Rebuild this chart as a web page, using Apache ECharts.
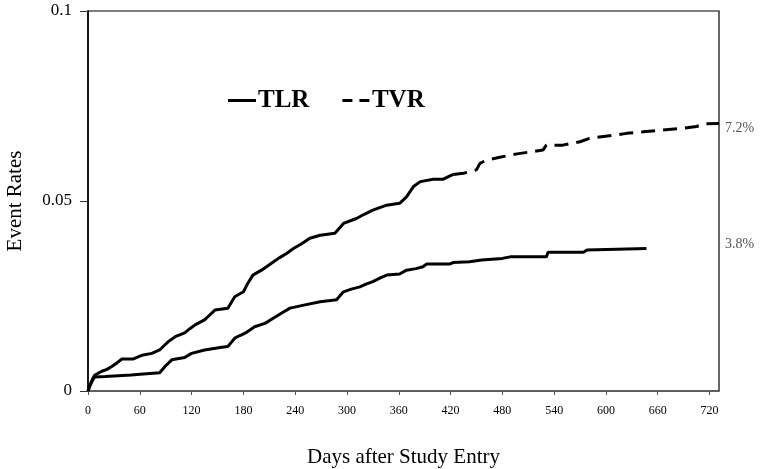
<!DOCTYPE html>
<html>
<head>
<meta charset="utf-8">
<script src="https://cdn.jsdelivr.net/npm/echarts@6/dist/echarts.min.js"></script>
<style>html,body{margin:0;padding:0;background:#fff}#c{width:762px;height:469px}</style>
</head>
<body>
<div id="c"></div>
<script>
// ---- data ----
const xTicks = [0, 60, 120, 180, 240, 300, 360, 420, 480, 540, 600, 660, 720];
const yTicks = [0, 0.05, 0.1];
const seriesNames = ['TLR', 'TVR'];
const endLabels = ['3.8%', '7.2%'];

const tlrDays  = [0, 2, 4, 6, 8, 20, 35, 50, 64, 83, 89, 93, 97, 112, 120, 135, 155, 162, 166, 170, 176, 182, 188, 193, 205, 215, 225, 234, 250, 269, 288, 292, 296, 305, 315, 322, 330, 338, 346, 361, 369, 380, 388, 392, 419, 423, 442, 456, 480, 489, 531, 533, 574, 578, 647];
const tlrRates = [0, 0.0012, 0.0022, 0.0031, 0.0037, 0.0038, 0.0040, 0.0042, 0.0045, 0.0048, 0.0064, 0.0073, 0.0082, 0.0088, 0.0099, 0.0108, 0.0115, 0.0117, 0.0128, 0.0139, 0.0146, 0.0152, 0.0161, 0.0169, 0.0178, 0.0192, 0.0206, 0.0218, 0.0226, 0.0235, 0.0240, 0.0251, 0.0261, 0.0268, 0.0274, 0.0281, 0.0288, 0.0297, 0.0305, 0.0308, 0.0318, 0.0322, 0.0327, 0.0334, 0.0334, 0.0338, 0.0340, 0.0345, 0.0349, 0.0353, 0.0353, 0.0365, 0.0365, 0.0371, 0.0375];

const tvrDays  = [0, 2, 4, 6, 8, 10, 16, 22, 28, 33, 39, 52, 58, 64, 74, 83, 88, 93, 101, 112, 118, 124, 135, 141, 147, 162, 166, 170, 180, 185, 191, 201, 215, 222, 230, 238, 248, 257, 269, 286, 296, 311, 320, 330, 346, 361, 369, 377, 385, 400, 411, 423, 435, 450, 454, 462, 477, 497, 527, 531, 550, 570, 581, 612, 624, 643, 666, 689, 705, 714, 731];
const tvrRates = [0, 0.0013, 0.0025, 0.0035, 0.0042, 0.0047, 0.0052, 0.0057, 0.0065, 0.0073, 0.0084, 0.0084, 0.0090, 0.0095, 0.0099, 0.0108, 0.0119, 0.0130, 0.0143, 0.0153, 0.0164, 0.0174, 0.0187, 0.0200, 0.0213, 0.0218, 0.0233, 0.0248, 0.0261, 0.0283, 0.0305, 0.0318, 0.0340, 0.0351, 0.0362, 0.0375, 0.0388, 0.0402, 0.0410, 0.0415, 0.0441, 0.0454, 0.0465, 0.0476, 0.0489, 0.0494, 0.0511, 0.0538, 0.0551, 0.0557, 0.0557, 0.0570, 0.0573, 0.0582, 0.0599, 0.0608, 0.0615, 0.0624, 0.0634, 0.0647, 0.0647, 0.0656, 0.0665, 0.0674, 0.0678, 0.0682, 0.0687, 0.0691, 0.0696, 0.0703, 0.0704];

const tvrSolidUntilDay = 423; // early part of TVR looks solid in the reference

// ---- build ----
const pairs = (xs, ys) => xs.map((x, i) => [x, ys[i]]);
const tlr = pairs(tlrDays, tlrRates);
const tvrAll = pairs(tvrDays, tvrRates);
const tvrEarly = tvrAll.filter(p => p[0] <= tvrSolidUntilDay);
const tvrLate = tvrAll.filter(p => p[0] >= tvrSolidUntilDay);

const serif = 'Liberation Serif, Times New Roman, serif';
const chart = echarts.init(document.getElementById('c'), null, {renderer: 'canvas'});
const lineW = 3;

chart.setOption({
  animation: false,
  backgroundColor: '#fff',
  grid: {left: 88, right: 43, top: 11, bottom: 78, show: true, borderColor: '#000', borderWidth: 1.2,
         containLabel: false, outerBoundsMode: 'none'},
  legend: {
    data: [
      {name: seriesNames[0], icon: 'path://M0,0H28V3H0Z'},
      {name: seriesNames[1], icon: 'path://M0,0H10V3H0Z M17,0H27V3H17Z'}
    ],
    left: 223, top: 83,
    itemWidth: 30, itemHeight: 3, itemGap: 33,
    itemStyle: {color: '#000'},
    textStyle: {fontFamily: serif, fontWeight: 'bold', fontSize: 25, color: '#000', padding: [0, 0, 0, -4]}
  },
  xAxis: {
    type: 'value', min: 0, max: 731, interval: 60,
    name: 'Days after Study Entry', nameLocation: 'middle', nameGap: 56,
    nameTextStyle: {fontFamily: serif, fontSize: 21, color: '#000'},
    axisLine: {show: true, lineStyle: {color: '#555', width: 1.5}},
    axisTick: {show: true, length: 4, lineStyle: {color: '#555'}},
    axisLabel: {fontFamily: serif, fontSize: 12, color: '#000', margin: 14, showMaxLabel: false,
      formatter: v => xTicks.includes(v) ? String(v) : ''},
    splitLine: {show: false}
  },
  yAxis: {
    type: 'value', min: 0, max: 0.1, interval: 0.05,
    name: 'Event Rates', nameLocation: 'middle', nameGap: 62, nameRotate: 90,
    nameTextStyle: {fontFamily: serif, fontSize: 21, color: '#000'},
    axisLine: {show: true, lineStyle: {color: '#000', width: 1.5}},
    axisTick: {show: true, length: 8, lineStyle: {color: '#333'}},
    axisLabel: {fontFamily: serif, fontSize: 17, color: '#000', margin: 16,
      formatter: v => { const t = yTicks.find(k => Math.abs(k - v) < 1e-9); return t === undefined ? '' : String(t); }},
    splitLine: {show: false}
  },
  graphic: [
    {type: 'text', left: 725, top: 121, style: {text: endLabels[1], font: '14px ' + serif, fill: '#555'}},
    {type: 'text', left: 725, top: 237, style: {text: endLabels[0], font: '14px ' + serif, fill: '#555'}}
  ],
  series: [
    {name: 'TLR', type: 'line', data: tlr, showSymbol: false, symbol: 'none',
     lineStyle: {color: '#000', width: lineW, type: 'solid'}, itemStyle: {color: '#000'}},
    {name: 'TVR (early)', type: 'line', data: tvrEarly, showSymbol: false, symbol: 'none',
     lineStyle: {color: '#000', width: lineW, type: 'solid'}, itemStyle: {color: '#000'}},
    {name: 'TVR', type: 'line', data: tvrLate, showSymbol: false, symbol: 'none',
     lineStyle: {color: '#000', width: lineW, type: [14, 8]}, itemStyle: {color: '#000'}}
  ]
});
</script>
</body>
</html>
